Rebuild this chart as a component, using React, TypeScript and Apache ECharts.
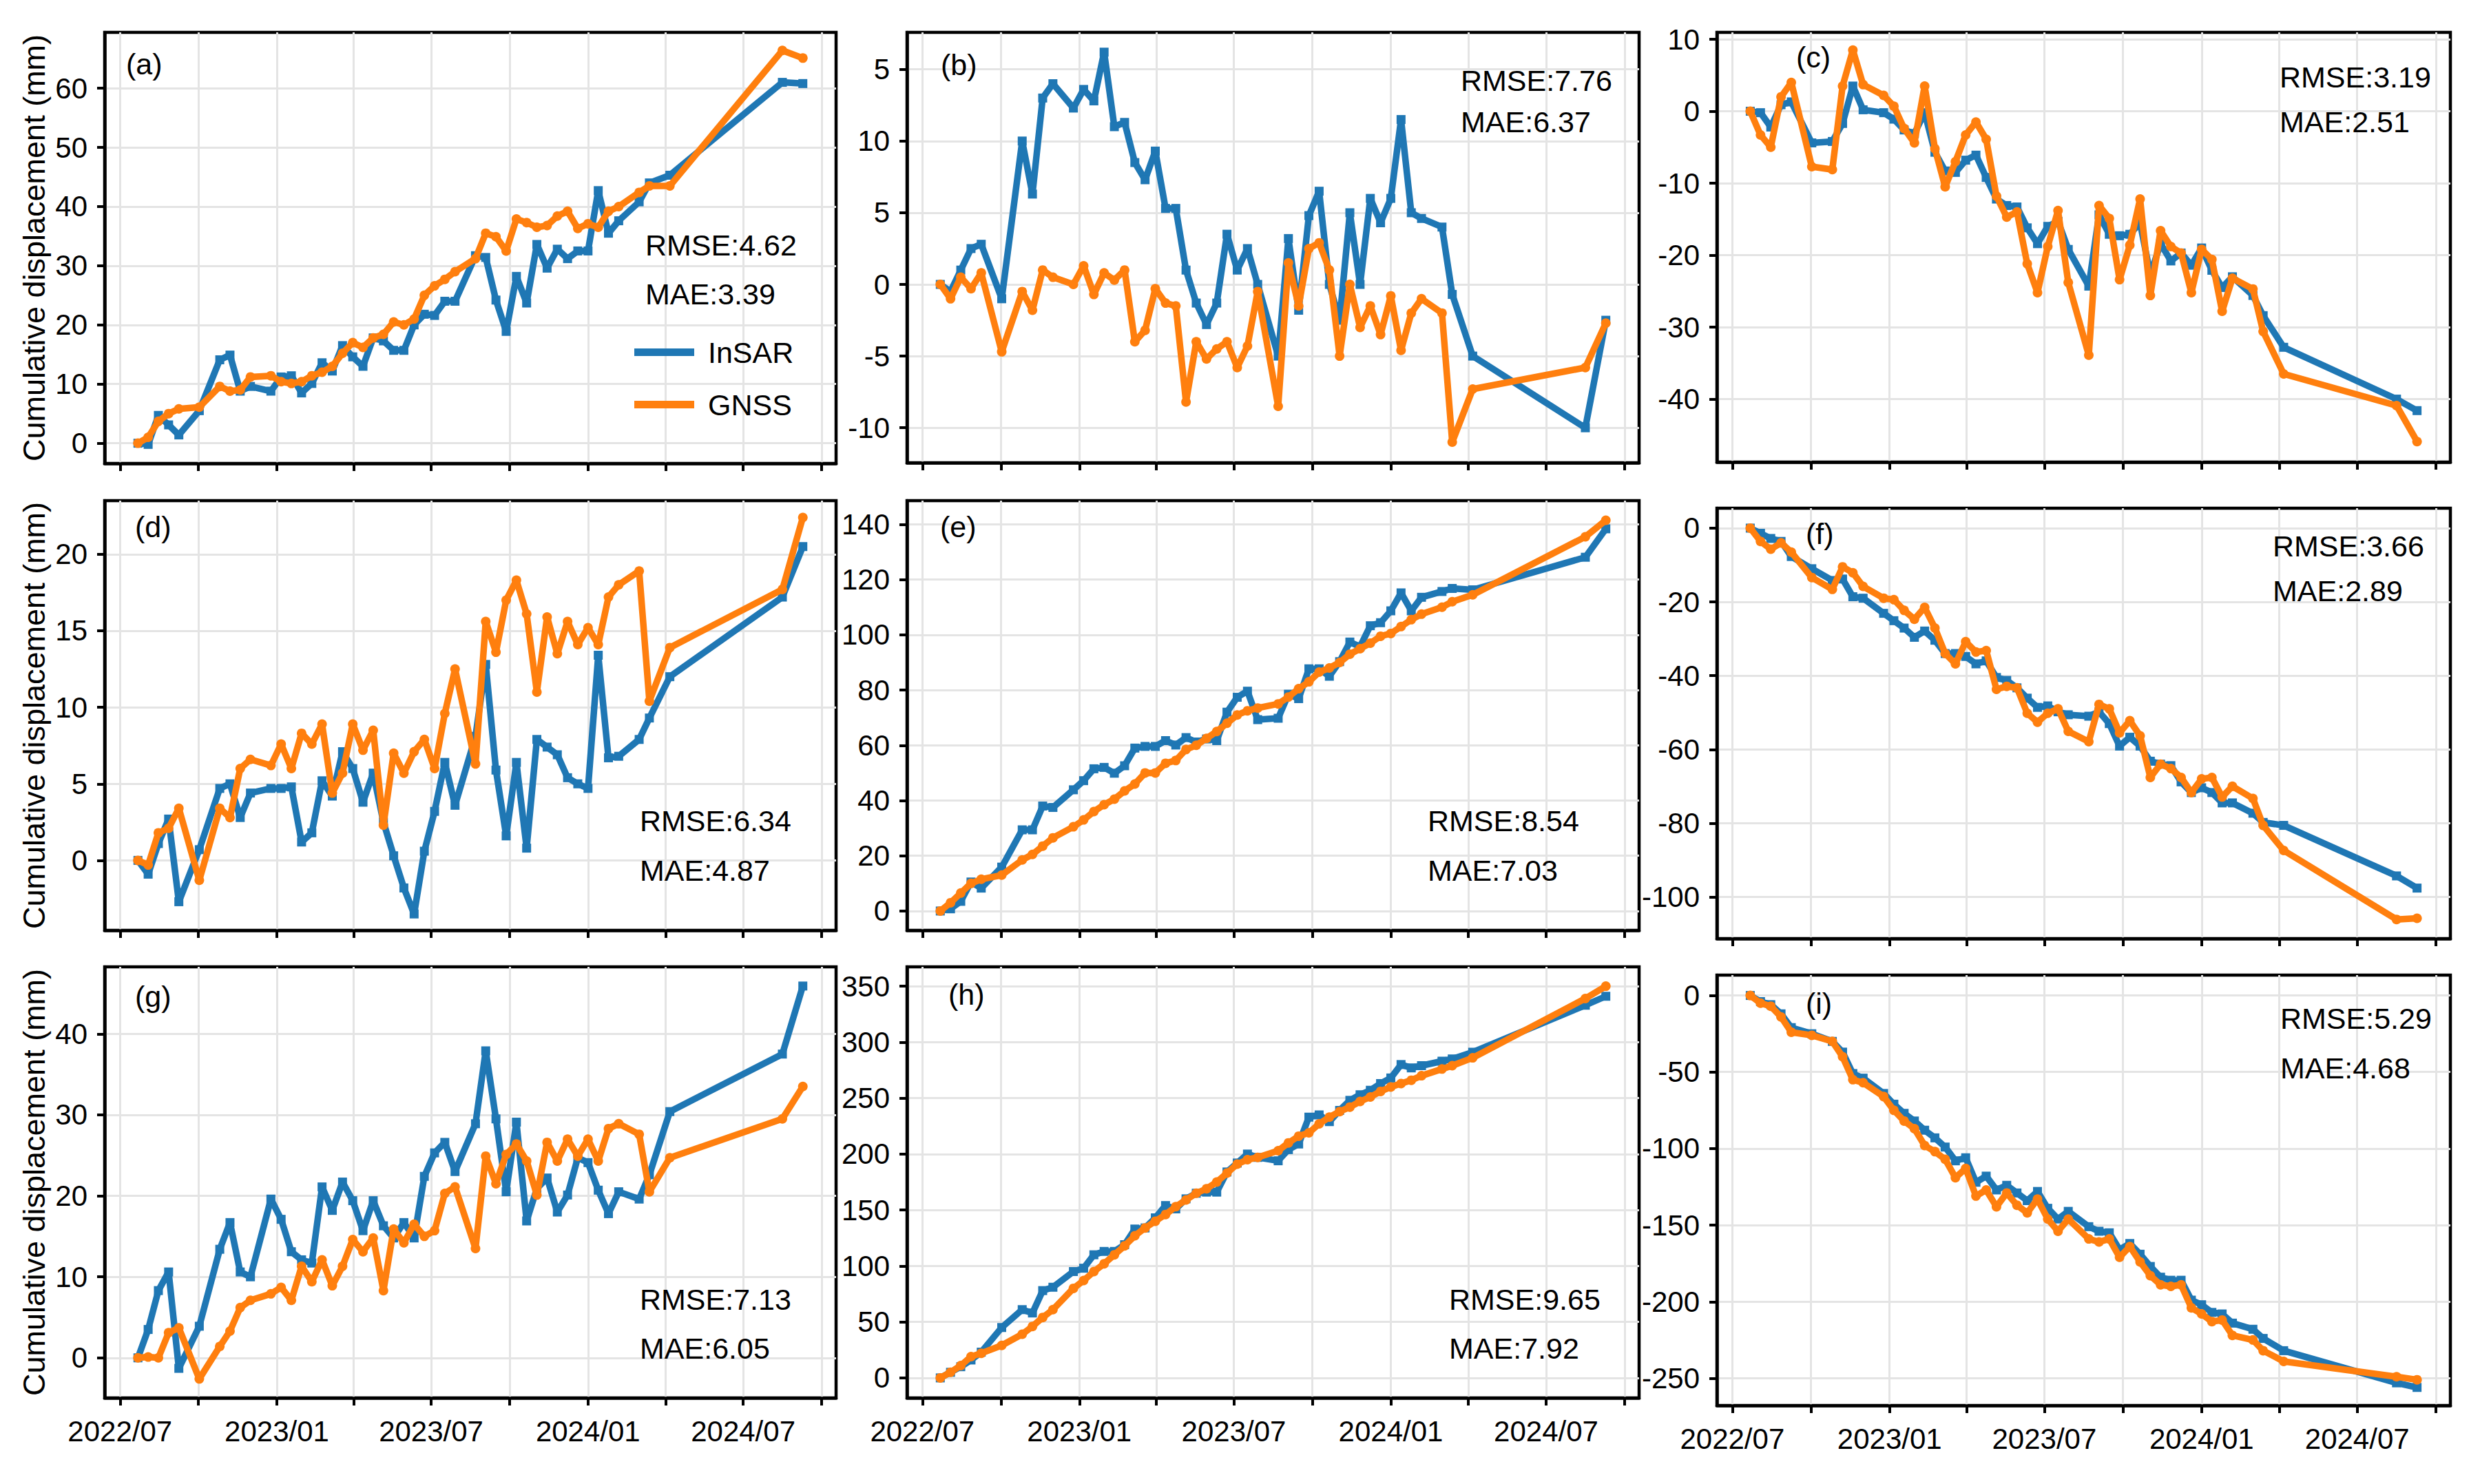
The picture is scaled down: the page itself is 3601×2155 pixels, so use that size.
import React, { useEffect, useRef } from "react";
import * as echarts from "echarts";

// ---------- data ----------
const DATES = [
  "2022-07-22", "2022-08-03", "2022-08-15", "2022-08-27", "2022-09-08", "2022-10-02",
  "2022-10-26", "2022-11-07", "2022-11-19", "2022-12-01", "2022-12-25", "2023-01-06",
  "2023-01-18", "2023-01-30", "2023-02-11", "2023-02-23", "2023-03-07", "2023-03-19",
  "2023-03-31", "2023-04-12", "2023-04-24", "2023-05-06", "2023-05-18", "2023-05-30",
  "2023-06-11", "2023-06-23", "2023-07-05", "2023-07-17", "2023-07-29", "2023-08-22",
  "2023-09-03", "2023-09-15", "2023-09-27", "2023-10-09", "2023-10-21", "2023-11-02",
  "2023-11-14", "2023-11-26", "2023-12-08", "2023-12-20", "2024-01-01", "2024-01-13",
  "2024-01-25", "2024-02-06", "2024-03-01", "2024-03-13", "2024-04-06", "2024-08-16",
  "2024-09-09",
];

const INSAR_A = [0, -0.2, 4.7, 3.1, 1.4, 5.5, 14.1, 14.9, 8.8, 9.6, 8.8, 11.2, 11.4, 8.5, 10.1, 13.6, 12.2, 16.5, 14.6, 13.0, 17.8, 17.3, 15.7, 15.7, 20.0, 21.8, 21.6, 24.0, 24.0, 31.7, 31.4, 24.2, 18.9, 28.2, 23.7, 33.6, 29.6, 32.8, 31.2, 32.5, 32.5, 42.7, 35.5, 37.6, 40.8, 44.0, 45.3, 61.0, 60.8];
const GNSS_A = [0, 1.0, 3.7, 5.0, 5.8, 6.1, 9.6, 8.8, 9.0, 11.2, 11.4, 10.4, 10.1, 10.4, 11.4, 12.0, 13.0, 15.2, 17.0, 16.2, 17.8, 18.4, 20.5, 20.0, 21.0, 25.0, 26.6, 27.7, 29.0, 31.2, 35.5, 34.9, 32.5, 37.9, 37.3, 36.5, 36.8, 38.4, 39.2, 36.3, 37.1, 36.5, 39.2, 40.0, 42.4, 43.5, 43.5, 66.4, 65.1];

const INSAR_B = [0, -0.5, 1.0, 2.5, 2.8, -1.0, 10.0, 6.3, 13.0, 14.0, 12.3, 13.6, 12.8, 16.2, 11.0, 11.3, 8.5, 7.3, 9.3, 5.3, 5.3, 1.0, -1.3, -2.8, -1.3, 3.5, 1.0, 2.5, 0.0, -5.0, 3.2, -1.8, 4.8, 6.5, 0.0, -2.5, 5.0, 0.0, 6.0, 4.3, 6.0, 11.5, 5.0, 4.6, 4.0, -0.7, -5.0, -10.0, -2.5];
const GNSS_B = [0, -1.0, 0.5, -0.3, 0.8, -4.7, -0.5, -1.8, 1.0, 0.5, 0, 1.3, -0.7, 0.8, 0.3, 1.0, -4.0, -3.2, -0.3, -1.3, -1.5, -8.2, -4.0, -5.2, -4.5, -4.0, -5.8, -4.3, -0.5, -8.5, 1.5, -1.5, 2.5, 2.9, 1.0, -5.0, 0, -3.0, -1.5, -3.5, -0.8, -4.6, -2.0, -1.0, -2.0, -11.0, -7.3, -5.8, -2.7];

const INSAR_C = [0, -0.2, -2.2, 0.9, 1.3, -4.4, -4.2, -1.7, 3.5, 0.2, -0.2, -1.1, -2.6, -3.1, -0.2, -5.7, -8.3, -8.5, -6.8, -6.1, -9.2, -12.2, -13.1, -13.3, -16.2, -18.4, -16.0, -15.3, -19.2, -24.3, -14.4, -17.1, -17.3, -17.1, -15.5, -22.7, -18.4, -20.8, -19.7, -21.4, -19.0, -22.1, -24.5, -23.0, -25.6, -28.4, -32.8, -40.0, -41.6];
const GNSS_C = [0, -3.3, -5.0, 2.0, 4.0, -7.7, -8.1, 3.5, 8.5, 3.7, 2.2, 0.7, -2.4, -4.4, 3.5, -5.2, -10.5, -7.0, -3.3, -1.5, -3.9, -11.8, -14.7, -14.0, -21.2, -25.2, -18.8, -13.8, -23.8, -33.9, -13.1, -14.9, -23.4, -18.6, -12.2, -25.6, -16.6, -18.8, -19.7, -25.2, -19.2, -20.6, -27.8, -23.2, -24.7, -30.6, -36.5, -40.9, -45.9];

const INSAR_D = [0, -0.9, 1.1, 2.7, -2.7, 0.7, 4.7, 5.0, 2.8, 4.4, 4.7, 4.7, 4.8, 1.2, 1.8, 5.2, 4.2, 7.1, 6.0, 3.8, 5.7, 2.5, 0.3, -1.8, -3.5, 0.6, 3.2, 6.4, 3.6, 8.1, 12.8, 5.9, 1.6, 6.4, 0.8, 7.9, 7.4, 6.9, 5.4, 5.0, 4.7, 13.4, 6.7, 6.8, 7.9, 9.3, 12.0, 17.2, 20.5];
const GNSS_D = [0, -0.3, 1.8, 2.1, 3.4, -1.3, 3.4, 2.8, 6.0, 6.6, 6.2, 7.6, 6.0, 8.3, 7.6, 8.9, 4.4, 5.7, 8.9, 7.2, 8.5, 2.3, 7.0, 5.7, 7.1, 7.9, 6.0, 9.6, 12.5, 6.3, 15.6, 13.6, 17.0, 18.3, 16.1, 11.0, 15.9, 13.5, 15.6, 14.1, 15.2, 14.1, 17.2, 18.0, 18.9, 10.4, 13.9, 17.7, 22.4];

const INSAR_E = [0, 0.8, 3.5, 10.5, 8.3, 15.9, 29.4, 29.4, 38.0, 37.5, 43.9, 47.2, 51.5, 52.0, 49.9, 52.6, 59.0, 59.6, 59.6, 61.7, 60.1, 62.8, 61.2, 62.3, 61.7, 72.0, 77.4, 79.6, 69.3, 69.8, 78.5, 76.9, 87.7, 87.7, 85.0, 90.3, 97.4, 95.7, 103.3, 104.4, 108.7, 115.2, 108.7, 113.6, 115.7, 116.8, 116.3, 128.1, 138.4];
const GNSS_E = [0, 3.0, 6.5, 10.0, 11.5, 13.0, 18.5, 20.5, 23.5, 26.5, 30.5, 33.0, 36.0, 38.5, 40.5, 43.5, 46.0, 50.0, 50.0, 53.5, 54.5, 58.5, 60.0, 62.5, 65.0, 68.0, 71.0, 72.5, 73.5, 75.0, 77.5, 80.5, 83.0, 86.5, 88.0, 90.0, 93.0, 95.0, 97.0, 99.5, 100.5, 103.0, 105.5, 107.5, 110.0, 112.0, 114.5, 135.5, 141.5];

const INSAR_F = [0, -1.4, -2.8, -3.6, -7.7, -11.0, -14.2, -13.8, -18.6, -19.0, -23.1, -25.1, -27.1, -29.6, -27.9, -30.4, -34.0, -34.0, -34.8, -36.8, -36.0, -40.5, -41.3, -43.3, -46.1, -48.6, -48.2, -49.8, -50.6, -51.0, -49.8, -53.0, -59.1, -56.7, -59.1, -63.2, -64.0, -64.4, -68.8, -71.7, -70.4, -71.7, -74.5, -74.5, -77.3, -79.8, -80.6, -94.3, -97.6];
const GNSS_F = [0, -3.6, -5.7, -4.0, -6.5, -13.4, -16.6, -10.5, -12.1, -15.8, -19.0, -19.4, -22.3, -24.7, -21.5, -27.1, -34.0, -36.8, -30.8, -33.6, -33.2, -43.7, -42.9, -43.3, -50.2, -52.6, -50.2, -49.0, -55.1, -57.9, -47.8, -49.0, -55.5, -52.2, -56.3, -67.6, -64.0, -65.2, -67.6, -71.7, -68.0, -67.6, -72.9, -70.0, -73.3, -80.6, -87.4, -106.1, -105.8];

const INSAR_G = [0, 3.5, 8.3, 10.6, -1.3, 3.9, 13.4, 16.7, 10.6, 10.0, 19.6, 17.1, 13.1, 12.1, 11.7, 21.1, 18.2, 21.7, 19.4, 15.7, 19.4, 16.3, 14.8, 16.7, 14.8, 22.4, 25.3, 26.6, 23.0, 28.9, 37.9, 29.5, 20.5, 29.1, 16.9, 20.9, 22.2, 18.0, 20.1, 24.7, 24.1, 20.7, 17.8, 20.5, 19.6, 22.6, 30.4, 37.5, 45.9];
const GNSS_G = [0, 0.1, 0, 3.1, 3.7, -2.6, 1.4, 3.3, 6.2, 7.1, 7.9, 8.7, 7.1, 11.3, 9.4, 12.1, 8.9, 11.3, 14.6, 13.1, 14.8, 8.3, 15.9, 14.2, 16.5, 15.0, 15.7, 20.3, 21.1, 13.5, 24.9, 21.5, 25.1, 26.4, 24.3, 20.1, 26.6, 24.3, 27.0, 24.9, 27.0, 24.3, 28.3, 28.9, 27.6, 20.5, 24.7, 29.5, 33.5];

const INSAR_H = [0, 5, 10, 16, 23, 45, 61, 58, 78, 81, 95, 98, 110, 113, 113, 119, 133, 134, 143, 154, 151, 160, 165, 166, 166, 184, 192, 200, 197, 194, 204, 209, 233, 235, 229, 239, 248, 253, 257, 263, 268, 280, 277, 279, 283, 285, 291, 333, 341];
const GNSS_H = [0, 5, 11, 19, 22, 29, 39, 46, 54, 61, 80, 87, 95, 102, 110, 118, 127, 134, 140, 146, 153, 159, 165, 169, 175, 183, 191, 195, 197, 203, 210, 216, 219, 227, 233, 238, 242, 247, 251, 256, 260, 263, 266, 270, 276, 279, 286, 339, 350];

const INSAR_I = [0, -4, -6, -12, -21, -25, -30, -37, -51, -54, -64, -71, -77, -82, -88, -93, -99, -108, -106, -122, -118, -127, -124, -129, -134, -128, -139, -146, -141, -151, -154, -155, -166, -162, -169, -177, -184, -186, -186, -199, -202, -207, -208, -214, -218, -224, -232, -253, -256];
const GNSS_I = [0, -5, -7, -14, -24, -26, -30, -40, -55, -57, -66, -75, -82, -87, -98, -102, -107, -119, -113, -131, -127, -138, -129, -137, -142, -133, -146, -154, -146, -159, -161, -159, -171, -164, -174, -183, -189, -190, -189, -204, -208, -213, -212, -222, -225, -232, -239, -249, -251];

const PANEL_LABELS = ["(a)", "(b)", "(c)", "(d)", "(e)", "(f)", "(g)", "(h)", "(i)"];
const RMSE_VALUES = ["4.62", "7.76", "3.19", "6.34", "8.54", "3.66", "7.13", "9.65", "5.29"];
const MAE_VALUES = ["3.39", "6.37", "2.51", "4.87", "7.03", "2.89", "6.05", "7.92", "4.68"];

const Y_MIN = [-3.42, -12.44, -48.75, -4.57, -7.0, -111.3, -4.95, -17.9, -267.8];
const Y_MAX = [69.45, 17.58, 10.96, 23.5, 148.6, 5.4, 48.27, 367.3, 13.3];
const Y_TICKS_A = [0, 10, 20, 30, 40, 50, 60];
const Y_TICKS_B = [-10, -5, 0, 5, 10, 15];
const Y_TICK_TEXT_B = ["-10", "-5", "0", "5", "10", "5"];
const Y_TICKS_C = [-40, -30, -20, -10, 0, 10];
const Y_TICKS_D = [0, 5, 10, 15, 20];
const Y_TICKS_E = [0, 20, 40, 60, 80, 100, 120, 140];
const Y_TICKS_F = [-100, -80, -60, -40, -20, 0];
const Y_TICKS_G = [0, 10, 20, 30, 40];
const Y_TICKS_H = [0, 50, 100, 150, 200, 250, 300, 350];
const Y_TICKS_I = [-250, -200, -150, -100, -50, 0];

const X_MIN = "2022-06-13";
const X_MAX = "2024-10-18";
const X_TICK_DATES = ["2022-07-01", "2022-10-01", "2023-01-01", "2023-04-01", "2023-07-01", "2023-10-01", "2024-01-01", "2024-04-01", "2024-07-01", "2024-10-01"];
const X_LABEL_DATES = ["2022-07-01", "2023-01-01", "2023-07-01", "2024-01-01", "2024-07-01"];

const SERIES_NAMES = ["InSAR", "GNSS"];
const Y_NAME = "Cumulative displacement (mm)";

// ---------- layout / style ----------
const FONT = '"Liberation Sans", Arial, Helvetica, sans-serif';
const BLUE = "#1f77b4";
const ORANGE = "#ff7f0e";
const COL_LEFT = [152, 1317, 2493];
const COL_WIDTH = [1062, 1063, 1065];
const PANEL_TOP = [47, 47, 47, 727, 727, 738, 1404, 1404, 1416];
const PANEL_HEIGHT = [626, 625, 624, 624, 624, 625, 626, 626, 625];
const LABEL_POS = [[183, 93], [1366, 94], [2608, 83], [196, 765], [1365, 765], [2622, 775], [196, 1447], [1377, 1444], [2622, 1457]];
const STAT_POS = [[937, 356, 427], [2121, 117, 177], [3310, 112, 177], [929, 1192, 1264], [2073, 1192, 1264], [3300, 793, 858], [929, 1887, 1958], [2104, 1887, 1958], [3311, 1479, 1551]];

const ts = (s: string) => {
  const [y, m, d] = s.split("-").map(Number);
  return Date.UTC(y, m - 1, d);
};

const fmtMonth = (v: number) => {
  const d = new Date(v);
  const m = d.getUTCMonth() + 1;
  return d.getUTCFullYear() + "/" + (m < 10 ? "0" + m : String(m));
};

function buildOption() {
  const insar = [INSAR_A, INSAR_B, INSAR_C, INSAR_D, INSAR_E, INSAR_F, INSAR_G, INSAR_H, INSAR_I];
  const gnss = [GNSS_A, GNSS_B, GNSS_C, GNSS_D, GNSS_E, GNSS_F, GNSS_G, GNSS_H, GNSS_I];
  const yTicks = [Y_TICKS_A, Y_TICKS_B, Y_TICKS_C, Y_TICKS_D, Y_TICKS_E, Y_TICKS_F, Y_TICKS_G, Y_TICKS_H, Y_TICKS_I];
  const xs = DATES.map(ts);
  const xTicks = X_TICK_DATES.map(ts);
  const xLabels = X_LABEL_DATES.map(ts);

  const grid: any[] = [];
  const xAxis: any[] = [];
  const yAxis: any[] = [];
  const series: any[] = [];
  const graphic: any[] = [];

  for (let i = 0; i < 9; i++) {
    const row = Math.floor(i / 3);
    const col = i % 3;
    grid.push({
      left: COL_LEFT[col],
      top: PANEL_TOP[i],
      width: COL_WIDTH[col],
      height: PANEL_HEIGHT[i],
      show: true,
      borderColor: "#000",
      borderWidth: 4.5,
      backgroundColor: "transparent",
      containLabel: false,
      outerBoundsMode: "none",
    });
    xAxis.push({
      type: "value",
      gridIndex: i,
      min: ts(X_MIN),
      max: ts(X_MAX),
      axisLine: { show: true, onZero: false, lineStyle: { color: "#000", width: 4.5 } },
      axisTick: { show: true, inside: false, length: 11, lineStyle: { color: "#000", width: 4 }, customValues: xTicks },
      axisLabel: {
        show: row === 2,
        customValues: xLabels,
        margin: 27,
        color: "#000",
        fontSize: 42,
        fontFamily: FONT,
        formatter: (v: number) => fmtMonth(v),
      },
      splitLine: { show: true, lineStyle: { color: "#e4e4e4", width: 3 } },
    });
    const ticks = yTicks[i];
    yAxis.push({
      type: "value",
      gridIndex: i,
      min: Y_MIN[i],
      max: Y_MAX[i],
      name: col === 0 ? Y_NAME : "",
      nameLocation: "middle",
      nameGap: 80,
      nameTextStyle: { fontSize: 45, color: "#000", fontFamily: FONT },
      axisLine: { show: true, onZero: false, lineStyle: { color: "#000", width: 4.5 } },
      axisTick: { show: true, inside: false, length: 11, lineStyle: { color: "#000", width: 4 }, customValues: ticks },
      axisLabel: {
        show: true,
        customValues: ticks,
        margin: 25,
        color: "#000",
        fontSize: 42,
        fontFamily: FONT,
        formatter: (v: number) => {
          if (i === 1) {
            const k = Y_TICKS_B.indexOf(Math.round(v));
            if (k >= 0) return Y_TICK_TEXT_B[k];
          }
          return String(Math.round(v));
        },
      },
      splitLine: { show: true, lineStyle: { color: "#e4e4e4", width: 3 } },
    });
    series.push({
      type: "line",
      name: SERIES_NAMES[0],
      xAxisIndex: i,
      yAxisIndex: i,
      data: xs.map((t, k) => [t, insar[i][k]]),
      color: BLUE,
      lineStyle: { color: BLUE, width: 9.5 },
      itemStyle: { color: BLUE },
      symbol: "rect",
      symbolSize: 13,
      showSymbol: true,
      showAllSymbol: true,
      z: 2,
    });
    series.push({
      type: "line",
      name: SERIES_NAMES[1],
      xAxisIndex: i,
      yAxisIndex: i,
      data: xs.map((t, k) => [t, gnss[i][k]]),
      color: ORANGE,
      lineStyle: { color: ORANGE, width: 9.5 },
      itemStyle: { color: ORANGE },
      symbol: "circle",
      symbolSize: 14,
      showSymbol: true,
      showAllSymbol: true,
      z: 3,
    });

    const textStyle = { fontSize: 43, fontFamily: FONT, fill: "#000", align: "left", verticalAlign: "middle" };
    graphic.push({ type: "text", x: LABEL_POS[i][0], y: LABEL_POS[i][1], z: 10, style: { ...textStyle, text: PANEL_LABELS[i] } });
    graphic.push({ type: "text", x: STAT_POS[i][0], y: STAT_POS[i][1], z: 10, style: { ...textStyle, text: "RMSE:" + RMSE_VALUES[i] } });
    graphic.push({ type: "text", x: STAT_POS[i][0], y: STAT_POS[i][2], z: 10, style: { ...textStyle, text: "MAE:" + MAE_VALUES[i] } });
  }

  return {
    animation: false,
    backgroundColor: "#fff",
    textStyle: { fontFamily: FONT },
    grid,
    xAxis,
    yAxis,
    series,
    graphic,
    legend: {
      show: true,
      orient: "vertical",
      left: 921,
      top: 490,
      itemWidth: 87,
      itemHeight: 11,
      itemGap: 33,
      padding: 0,
      selectedMode: false,
      data: [
        { name: SERIES_NAMES[0], icon: "rect" },
        { name: SERIES_NAMES[1], icon: "rect" },
      ],
      textStyle: { fontSize: 43, color: "#000", fontFamily: FONT, padding: [0, 0, 0, 15] },
    },
  };
}

export default function App() {
  const ref = useRef<HTMLDivElement | null>(null);
  useEffect(() => {
    if (!ref.current) return;
    const chart = echarts.init(ref.current, undefined, { renderer: "svg" });
    chart.setOption(buildOption() as any);
    return () => chart.dispose();
  }, []);
  return (
    <div
      ref={ref}
      style={{ position: "fixed", left: 0, top: 0, width: "3601px", height: "2155px", background: "#fff" }}
    />
  );
}
